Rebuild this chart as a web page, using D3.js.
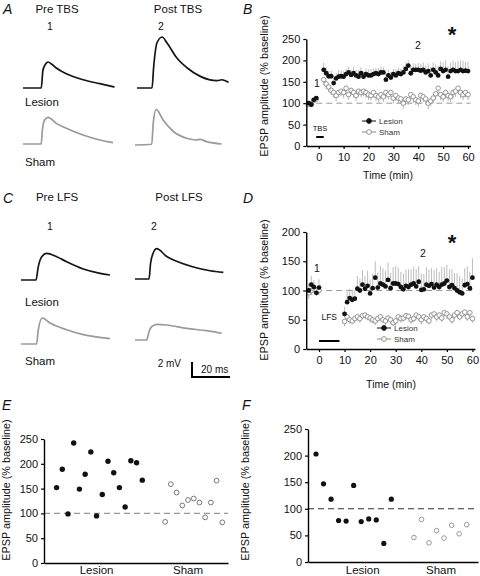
<!DOCTYPE html>
<html><head><meta charset="utf-8">
<script src="https://cdn.jsdelivr.net/npm/d3@7"></script>
<style>body{margin:0;background:#fff}</style>
</head><body><svg id="c" width="480" height="576" style="background:#fff"></svg>
<script>
// ---------- DATA ----------
// Panel A/C traces: [time (ms), amplitude (mV above baseline)]
const preTBSLesion = [[0,0],[9.6,0],[10.5,2.4],[11.9,3.2],[13.2,3.47],[15,3.2],[17.5,2.67],[22.8,1.9],[31.6,1.1],[40.4,0.58],[48.2,0.13]];
const postTBSLesion = [[0,0],[7.9,0],[8.8,2.9],[10.5,6.0],[13.2,6.8],[15.8,6.0],[21,4.0],[26.3,2.7],[33.3,1.55],[42.1,0.98],[44.7,1.1],[48.2,0.75]];
const preTBSSham = [[0,0],[9.6,0],[10.2,1.87],[11.4,3.2],[13.2,3.55],[17.5,2.75],[22.8,2.1],[31.6,1.2],[40.4,0.53],[47.4,0.18]];
const postTBSSham = [[0,0],[8.8,0.1],[9.6,2.9],[11.1,4.75],[14.9,3.3],[20.2,1.8],[27.2,0.9],[32.5,0.67],[34.2,0.75],[37.7,0.45],[45.6,0.13]];
const preLFSLesion = [[0,0],[7.9,0],[9.1,1.78],[10.9,3.1],[13.5,3.55],[18.8,3.1],[24,2.44],[32.8,1.47],[41.6,0.89],[46.8,0.67]];
const postLFSLesion = [[0,0],[7.4,0],[8.2,2.1],[9.6,3.47],[11.4,4.04],[16.7,3.0],[21.9,2.36],[30.7,1.6],[39.5,1.1],[46.5,0.89]];
const preLFSSham = [[0,0],[8.2,0],[9.1,1.9],[11.2,3.47],[15.3,2.8],[24,1.9],[32.8,1.24],[46.8,0.71]];
const postLFSSham = [[0,0],[6.1,0],[7.5,1.2],[8.8,1.78],[11.4,2.09],[16.7,2.0],[27.2,1.55],[37.7,1.24],[45.6,0.89]];
const scaleBarMV = 2, scaleBarMS = 20;

// Panel B (TBS) time course
const bBaseTimes = [-4,-3,-2,-1];
const bBaseLesion = [100,97,108,112];
const bBaseSham = [97,97,106,110];
const bBaseErrLesion = [6,5,6,5];
const bBaseErrSham = [5,6,5,6];
const bStartTime = 2;
const bLesion = [178,170,163,163,147,158,162,163,162,168,172,166,170,165,162,170,162,168,165,165,168,170,168,172,172,155,165,160,168,165,170,168,172,180,188,170,178,178,178,176,178,172,175,165,178,172,165,180,175,178,162,175,178,175,175,178,175,176,175];
const bSham = [155,145,138,130,125,118,125,128,125,135,120,130,125,118,128,125,128,125,120,118,125,118,115,120,115,125,120,125,112,118,112,110,100,110,108,120,115,108,105,118,115,110,100,105,112,122,135,120,115,125,118,115,125,128,135,125,120,125,120];
const bErrLesion = [17,14,12,14,13,12,15,14,13,12,13,12,14,13,15,14,12,13,14,15,13,12,14,13,12,15,14,13,12,14,13,12,14,15,12,16,15,14,16,15,17,16,18,20,17,19,22,18,20,22,24,20,22,21,23,22,24,21,22];
const bErrSham = [12,13,12,11,12,13,11,12,13,11,12,11,12,13,12,11,12,13,12,11,12,13,12,11,12,13,12,11,12,13,14,12,13,14,12,13,14,12,13,14,12,13,14,12,13,14,12,13,12,14,13,12,14,13,12,14,13,12,13];
const bTicksX = [0,10,20,30,40,50,60];
const bTicksY = [0,50,100,150,200,250];
const tbsPeriod = [-1,2];

// Panel D (LFS) time course
const dBaseTimes = [-4,-3,-2,-1,0];
const dBaseLesion = [100,110,106,96,105];
const dBaseSham = [96,100,103,100,100];
const dBaseErrLesion = [12,15,12,10,14];
const dBaseErrSham = [10,8,10,9,8];
const dStartTime = 10;
const dLesion = [60,80,87,84,86,103,100,110,103,108,95,104,122,105,112,110,107,118,104,112,112,111,106,102,108,106,110,112,107,115,101,102,110,108,111,105,110,106,110,112,117,106,109,104,100,97,95,109,111,104,122];
const dSham = [47,55,50,48,52,55,52,57,58,55,53,50,48,52,55,50,48,53,50,45,48,55,52,53,57,56,50,52,58,55,50,55,52,48,58,60,55,58,53,62,60,55,50,58,62,55,60,63,55,62,52];
const dErrLesion = [12,18,16,18,15,22,20,25,22,26,24,25,28,26,30,28,27,30,26,28,30,28,26,27,28,30,26,28,30,27,28,26,30,28,27,30,28,26,30,28,27,30,28,26,30,28,26,29,30,28,33];
const dErrSham = [8,6,7,6,7,6,7,6,7,6,8,6,7,6,7,6,7,6,7,6,8,6,7,6,7,6,7,6,7,6,8,6,7,6,7,6,7,6,7,6,8,6,7,6,7,6,7,6,7,6,7];
const dTicksX = [0,10,20,30,40,50,60];
const dTicksY = [0,50,100,150,200];
const lfsPeriod = [0,8];

// Panel E (TBS, individual slices)
const eLesion = [152,189,99,242,149,179,224,95,138,205,182,152,113,206,202,167];
const eSham = [83,159,142,116,127,130,122,92,122,166,82];
// Panel F (LFS, individual slices)
const fLesion = [203,147,118,78,77,144,76,81,79,35,118];
const fSham = [46,80,36,59,45,69,53,70];
const scatterTicksY = [0,50,100,150,200,250];
const groups = ["Lesion","Sham"];

// ---------- DRAW ----------
const FONT = "'Liberation Sans', Arial, sans-serif";
const svg = d3.select("#c");
svg.append("rect").attr("width",480).attr("height",576).attr("fill","#fff");

function txt(x, y, s, o = {}) {
  const t = svg.append("text").attr("x", x).attr("y", y).text(s)
    .attr("font-family", FONT).attr("font-size", o.size || 11.5)
    .attr("fill", o.fill || "#111").attr("text-anchor", o.anchor || "start");
  if (o.italic) t.attr("font-style", "italic");
  if (o.bold) t.attr("font-weight", "bold");
  if (o.rotate) t.attr("transform", `rotate(-90,${x},${y})`);
  return t;
}
function axisStyle(g, fs) {
  g.select(".domain").attr("stroke", "#000").attr("stroke-width", 1.4);
  g.selectAll(".tick line").attr("stroke", "#000").attr("stroke-width", 1.2);
  g.selectAll("text").attr("font-family", FONT).attr("font-size", fs || 11).attr("fill", "#111");
}

// Traces
const tx = d3.scaleLinear().domain([0, 1]).range([0, 1.9]);   // ms -> px
const ty = d3.scaleLinear().domain([0, 1]).range([0, -7.5]);  // mV -> px
const traceLine = d3.line().x(d => tx(d[0])).y(d => ty(d[1])).curve(d3.curveMonotoneX);
function trace(data, ox, oy, color) {
  svg.append("path").datum(data).attr("transform", `translate(${ox},${oy})`)
    .attr("d", traceLine).attr("fill", "none").attr("stroke", color)
    .attr("stroke-width", 1.7).attr("stroke-linejoin", "round");
}
const BLK = "#151515", GRY = "#9a9a9a";
trace(preTBSLesion, 23, 88, BLK);
trace(postTBSLesion, 137, 88, BLK);
trace(preTBSSham, 23, 144, GRY);
trace(postTBSSham, 135, 145, GRY);
trace(preLFSLesion, 21, 280, BLK);
trace(postLFSLesion, 135, 279, BLK);
trace(preLFSSham, 21, 344, GRY);
trace(postLFSSham, 135, 340, GRY);

// Panel A/C text
txt(3, 14, "A", {size: 14, italic: true});
txt(57, 13, "Pre TBS", {anchor: "middle"});
txt(178, 13, "Post TBS", {anchor: "middle"});
txt(50, 30, "1", {anchor: "middle", size: 10.5});
txt(161, 30, "2", {anchor: "middle", size: 10.5});
txt(25, 106, "Lesion");
txt(25, 166, "Sham");
txt(3, 203, "C", {size: 14, italic: true});
txt(57, 201, "Pre LFS", {anchor: "middle"});
txt(179, 201, "Post LFS", {anchor: "middle"});
txt(50, 230, "1", {anchor: "middle", size: 10.5});
txt(154, 230, "2", {anchor: "middle", size: 10.5});
txt(25, 306, "Lesion");
txt(25, 365, "Sham");
// scale bar
const sbx = 192, sby = 377;
svg.append("path").attr("d", `M${sbx},${sby + ty(scaleBarMV)}V${sby}H${sbx + tx(scaleBarMS)}`)
  .attr("fill", "none").attr("stroke", "#000").attr("stroke-width", 2);
txt(181, 367, "2 mV", {anchor: "end", size: 10});
txt(201, 373, "20 ms", {size: 10});

// Time course panels
function timeCourse(cfg) {
  const x = d3.scaleLinear().domain(cfg.xDom).range(cfg.xRange);
  const y = d3.scaleLinear().domain(cfg.yDom).range(cfg.yRange);
  const lesion = cfg.baseTimes.map((t, i) => ({t, v: cfg.baseLesion[i], e: cfg.baseErrLesion[i]}))
    .concat(cfg.lesion.map((v, i) => ({t: cfg.start + i, v, e: cfg.errLesion[i]})));
  const sham = cfg.baseTimes.map((t, i) => ({t, v: cfg.baseSham[i], e: cfg.baseErrSham[i]}))
    .concat(cfg.sham.map((v, i) => ({t: cfg.start + i, v, e: cfg.errSham[i]})));
  svg.append("line").attr("x1", x(cfg.xDom[0])).attr("x2", x(cfg.xDom[1]))
    .attr("y1", y(100)).attr("y2", y(100)).attr("stroke", "#999").attr("stroke-width", 1)
    .attr("stroke-dasharray", "6,4");
  svg.append("g").selectAll("line").data(sham).join("line")
    .attr("x1", d => x(d.t)).attr("x2", d => x(d.t))
    .attr("y1", d => y(d.v)).attr("y2", d => y(d.v - d.e))
    .attr("stroke", "#aaa").attr("stroke-width", 0.9);
  svg.append("g").selectAll("line").data(lesion).join("line")
    .attr("x1", d => x(d.t)).attr("x2", d => x(d.t))
    .attr("y1", d => y(d.v)).attr("y2", d => y(d.v + d.e))
    .attr("stroke", "#b5b5b5").attr("stroke-width", 0.9);
  svg.append("g").selectAll("circle").data(sham).join("circle")
    .attr("cx", d => x(d.t)).attr("cy", d => y(d.v)).attr("r", 2.3)
    .attr("fill", "#fff").attr("stroke", "#8a8a8a").attr("stroke-width", 0.9);
  svg.append("g").selectAll("circle").data(lesion).join("circle")
    .attr("cx", d => x(d.t)).attr("cy", d => y(d.v)).attr("r", 2.4)
    .attr("fill", "#111");
  svg.append("g").attr("transform", `translate(${cfg.xRange[0]},0)`)
    .call(d3.axisLeft(y).tickValues(cfg.ticksY).tickSize(3).tickSizeOuter(0).tickPadding(3))
    .call(g => axisStyle(g, 11));
  svg.append("g").attr("transform", `translate(0,${cfg.yRange[0]})`)
    .call(d3.axisBottom(x).tickValues(cfg.ticksX).tickSize(3).tickSizeOuter(0).tickPadding(4))
    .call(g => axisStyle(g, 11));
  svg.append("line").attr("x1", x(cfg.stim[0])).attr("x2", x(cfg.stim[1]))
    .attr("y1", cfg.stimY).attr("y2", cfg.stimY).attr("stroke", "#000").attr("stroke-width", 2);
  txt((x(cfg.stim[0]) + x(cfg.stim[1])) / 2, cfg.stimLabelY, cfg.stimLabel, {anchor: "middle", size: cfg.stimSize});
  const lx = cfg.legX, ly = cfg.legY;
  [["Lesion", "#111", "#111"], ["Sham", "#fff", "#8a8a8a"]].forEach((it, i) => {
    const yy = ly + i * 11;
    svg.append("line").attr("x1", lx - 7).attr("x2", lx + 7).attr("y1", yy).attr("y2", yy)
      .attr("stroke", it[2]).attr("stroke-width", 1);
    svg.append("circle").attr("cx", lx).attr("cy", yy).attr("r", 2.4)
      .attr("fill", it[1]).attr("stroke", it[2]).attr("stroke-width", 0.9);
    txt(lx + 10, yy + 3, it[0], {size: 8, fill: "#333"});
  });
  return {x, y};
}

timeCourse({xDom: [-5, 61], xRange: [306.3, 470.5], yDom: [0, 250], yRange: [146, 39],
  baseTimes: bBaseTimes, baseLesion: bBaseLesion, baseSham: bBaseSham,
  baseErrLesion: bBaseErrLesion, baseErrSham: bBaseErrSham, start: bStartTime,
  lesion: bLesion, sham: bSham, errLesion: bErrLesion, errSham: bErrSham,
  ticksX: bTicksX, ticksY: bTicksY, stim: tbsPeriod, stimY: 137, stimLabelY: 131, stimLabel: "TBS", stimSize: 7.5,
  legX: 369, legY: 121});
txt(243, 14, "B", {size: 14, italic: true});
txt(268, 86, "EPSP amplitude (% baseline)", {anchor: "middle", rotate: true, size: 10.8});
txt(388, 179, "Time (min)", {anchor: "middle", size: 10.5});
txt(317, 87, "1", {anchor: "middle", size: 10.5});
txt(418, 49, "2", {anchor: "middle", size: 10.5});
txt(452, 42, "*", {anchor: "middle", size: 22, bold: true});

timeCourse({xDom: [-5, 61], xRange: [306.2, 475], yDom: [0, 200], yRange: [349, 232],
  baseTimes: dBaseTimes, baseLesion: dBaseLesion, baseSham: dBaseSham,
  baseErrLesion: dBaseErrLesion, baseErrSham: dBaseErrSham, start: dStartTime,
  lesion: dLesion, sham: dSham, errLesion: dErrLesion, errSham: dErrSham,
  ticksX: dTicksX, ticksY: dTicksY, stim: lfsPeriod, stimY: 341, stimLabelY: 320, stimLabel: "LFS", stimSize: 8.5,
  legX: 384, legY: 328});
txt(243, 203, "D", {size: 14, italic: true});
txt(268, 290, "EPSP amplitude (% baseline)", {anchor: "middle", rotate: true, size: 10.8});
txt(391, 388, "Time (min)", {anchor: "middle", size: 10.5});
txt(317, 272, "1", {anchor: "middle", size: 10.5});
txt(423, 257, "2", {anchor: "middle", size: 10.5});
txt(452, 250, "*", {anchor: "middle", size: 22, bold: true});

// Scatter panels
function scatter(cfg) {
  const x = d3.scaleLinear().domain(cfg.slotDom).range(cfg.xRange);
  const y = d3.scaleLinear().domain([0, 250]).range(cfg.yRange);
  svg.append("line").attr("x1", cfg.xRange[0]).attr("x2", cfg.xRange[1])
    .attr("y1", y(100)).attr("y2", y(100)).attr("stroke", cfg.dashColor).attr("stroke-width", 1.1)
    .attr("stroke-dasharray", "6,4");
  svg.append("g").selectAll("circle").data(cfg.lesion).join("circle")
    .attr("cx", (d, i) => x(i)).attr("cy", d => y(d)).attr("r", cfg.r).attr("fill", "#111");
  svg.append("g").selectAll("circle").data(cfg.sham).join("circle")
    .attr("cx", (d, i) => x(cfg.shamOffset + i)).attr("cy", d => y(d)).attr("r", cfg.r - 0.3)
    .attr("fill", "#fff").attr("stroke", cfg.shamStroke).attr("stroke-width", 1);
  svg.append("g").attr("transform", `translate(${cfg.xRange[0]},0)`)
    .call(d3.axisLeft(y).tickValues(scatterTicksY).tickSize(3).tickSizeOuter(0).tickPadding(3))
    .call(g => axisStyle(g, 11));
  svg.append("g").attr("transform", `translate(0,${cfg.yRange[0]})`)
    .call(d3.axisBottom(x).tickValues([]).tickSizeOuter(0))
    .call(g => axisStyle(g, 11));
  txt(x(cfg.labelSlots[0]), 574, groups[0], {anchor: "middle", size: 11.5});
  txt(x(cfg.labelSlots[1]), 574, groups[1], {anchor: "middle", size: 11.5});
}
scatter({slotDom: [-2.2, 30], xRange: [44, 228], yRange: [563, 439], lesion: eLesion, sham: eSham,
  shamOffset: 19, r: 2.7, dashColor: "#999", shamStroke: "#777", labelSlots: [7, 23]});
txt(2, 410, "E", {size: 14, italic: true});
txt(10, 490, "EPSP amplitude (% baseline)", {anchor: "middle", rotate: true, size: 10.8});

scatter({slotDom: [-1.06, 21.5], xRange: [308, 478], yRange: [562, 429], lesion: fLesion, sham: fSham,
  shamOffset: 13, r: 2.6, dashColor: "#333", shamStroke: "#999", labelSlots: [6.2, 16.6]});
txt(242, 410, "F", {size: 14, italic: true});
txt(249, 490, "EPSP amplitude (% baseline)", {anchor: "middle", rotate: true, size: 10.8});
</script></body></html>
